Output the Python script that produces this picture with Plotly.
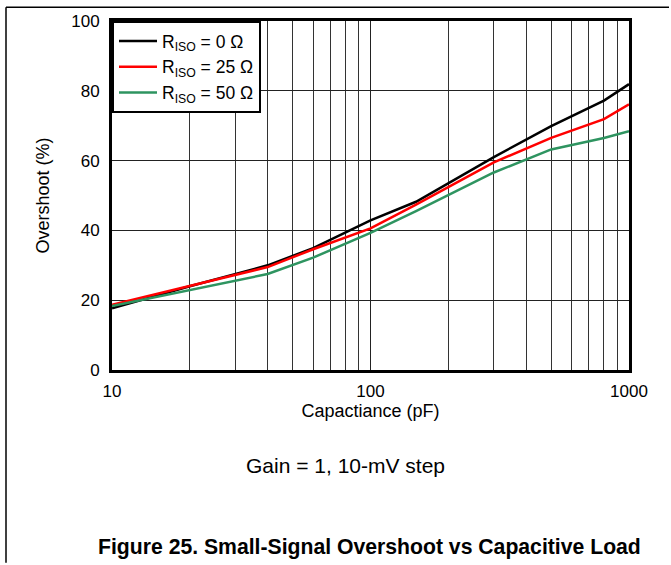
import plotly.graph_objects as go

cap_pf = [10, 20, 40, 60, 100, 150, 300, 500, 800, 1000]
riso_0 = [17.7, 24.0, 30.0, 34.9, 42.9, 48.2, 61.0, 69.9, 77.2, 81.9]
riso_25 = [18.7, 24.0, 29.5, 34.6, 40.6, 47.4, 59.5, 66.5, 71.9, 76.1]
riso_50 = [18.3, 22.8, 27.5, 32.2, 39.3, 45.5, 56.6, 63.2, 66.5, 68.4]
series_names = ["R<sub>ISO</sub> = 0 Ω", "R<sub>ISO</sub> = 25 Ω", "R<sub>ISO</sub> = 50 Ω"]
series_colors = ["#000000", "#ff0000", "#2e9460"]
x_ticks = [10, 100, 1000]
x_minor = [20, 30, 40, 50, 60, 70, 80, 90, 200, 300, 400, 500, 600, 700, 800, 900]
y_ticks = [0, 20, 40, 60, 80, 100]

FONT = "Liberation Sans, Arial, sans-serif"

fig = go.Figure()
for name, ys, col in zip(series_names, [riso_0, riso_25, riso_50], series_colors):
    fig.add_trace(go.Scatter(x=cap_pf, y=ys, mode="lines", name=name,
                             line=dict(color=col, width=2.5)))

W, H = 671, 565
L, R, T, B = 112, 42, 17, 195
pw, ph = W - L - R, H - T - B

def px(x):
    return (x - L) / pw

def py(y):
    return (H - B - y) / ph

fig.update_layout(
    width=W, height=H,
    margin=dict(l=L, r=R, t=T, b=B),
    paper_bgcolor="white", plot_bgcolor="white",
    font=dict(family=FONT, size=17, color="black"),
    showlegend=True,
    legend=dict(x=0, y=1, xanchor="left", yanchor="top",
                bgcolor="white", bordercolor="black", borderwidth=2,
                font=dict(size=17.5), tracegroupgap=0, itemwidth=38),
    xaxis=dict(type="log", range=[1, 3], tickvals=x_ticks,
               ticktext=[str(v) for v in x_ticks],
               tickfont=dict(size=17), ticklabelstandoff=4,
               showgrid=True, gridcolor="#222", gridwidth=1,
               minor=dict(tickvals=x_minor, showgrid=True, gridcolor="#333", gridwidth=1, ticks=""),
               showline=True, linecolor="black", linewidth=3, mirror=True,
               ticks="", zeroline=False,
               title=dict(text="Capactiance (pF)", standoff=3, font=dict(size=18))),
    yaxis=dict(range=[0, 100], tickvals=y_ticks,
               tickfont=dict(size=17), ticklabelstandoff=6,
               showgrid=True, gridcolor="#222", gridwidth=1,
               showline=True, linecolor="black", linewidth=3, mirror=True,
               ticks="", zeroline=False,
               title=dict(text="Overshoot (%)", standoff=17, font=dict(size=18))),
    annotations=[
        dict(text="Gain = 1, 10-mV step", xref="paper", yref="paper",
             x=px(345), y=py(467), xanchor="center", yanchor="middle",
             showarrow=False, font=dict(size=21)),
        dict(text="<b>Figure 25. Small-Signal Overshoot vs Capacitive Load</b>",
             xref="paper", yref="paper", x=px(369), y=py(549),
             xanchor="center", yanchor="middle", showarrow=False,
             font=dict(size=21.2, family="Liberation Sans Narrow, Arial Narrow, Liberation Sans, sans-serif")),
    ],
    shapes=[
        dict(type="line", xref="paper", yref="paper", x0=px(6), x1=px(6), y0=py(3), y1=py(565),
             line=dict(color="black", width=1.5)),
        dict(type="line", xref="paper", yref="paper", x0=px(6), x1=px(669), y0=py(3), y1=py(3),
             line=dict(color="black", width=1.5)),
    ],
)

fig.write_html("out.html", config={"displayModeBar": False},
               post_script="document.body.style.margin='0';document.body.style.overflow='hidden';")
